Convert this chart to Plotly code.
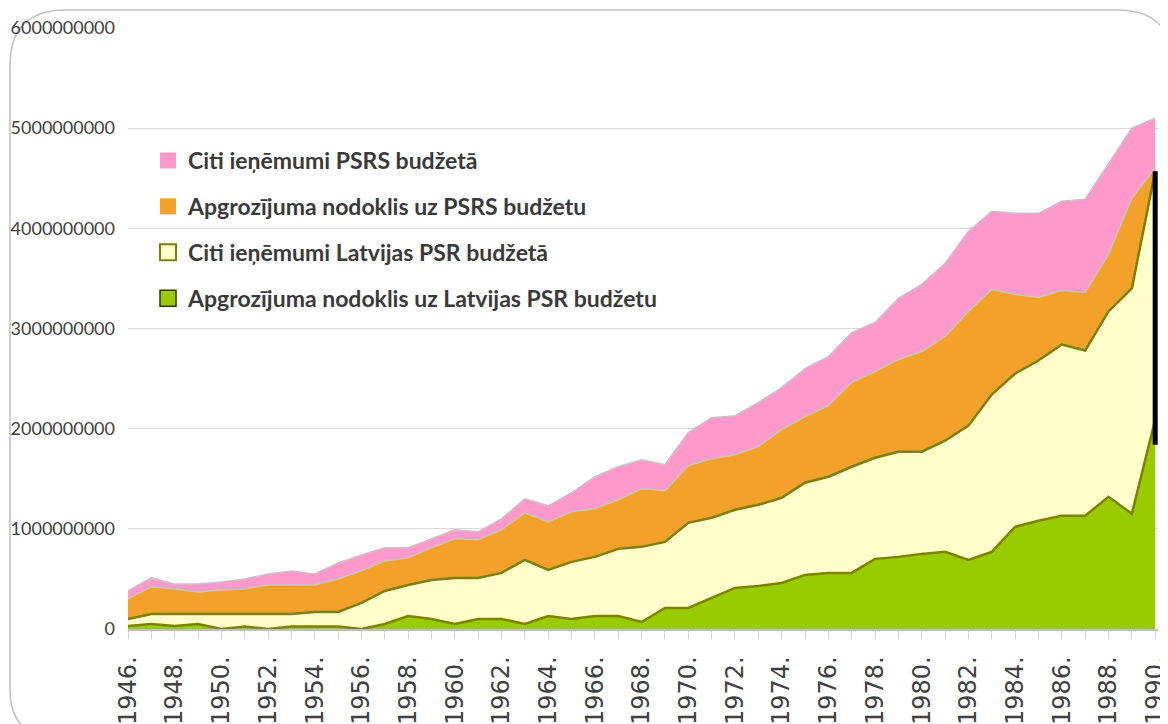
import plotly.graph_objects as go

# ---------------- data (values in millions) ----------------
years = list(range(1946, 1991))

# Apgrozījuma nodoklis uz Latvijas PSR budžetu
turnover_lv = [30, 50, 30, 50, 0, 25, 0, 25, 25, 25,
               0, 50, 130, 100, 50, 100, 100, 50, 130, 100,
               130, 130, 70, 210, 210, 310, 410, 430, 460, 540,
               560, 560, 700, 720, 750, 770, 690, 770, 1020, 1080,
               1130, 1130, 1320, 1150, 2090]
# Citi ieņēmumi Latvijas PSR budžetā
other_lv = [70, 100, 120, 100, 150, 125, 150, 125, 145, 145,
            260, 330, 310, 390, 460, 410, 460, 640, 460, 570,
            590, 670, 750, 660, 850, 800, 780, 810, 850, 920,
            960, 1060, 1010, 1050, 1020, 1110, 1340, 1570, 1530, 1600,
            1710, 1650, 1850, 2250, 2480]
# Apgrozījuma nodoklis uz PSRS budžetu
turnover_su = [200, 270, 250, 220, 240, 250, 290, 290, 270, 330,
               320, 300, 270, 320, 390, 380, 430, 470, 480, 500,
               480, 490, 580, 510, 570, 590, 550, 580, 680, 660,
               710, 840, 860, 920, 1000, 1040, 1140, 1050, 790, 630,
               540, 580, 570, 900, 30]
# Citi ieņēmumi PSRS budžetā
other_su = [80, 90, 50, 80, 80, 100, 110, 140, 110, 160,
            160, 130, 100, 90, 90, 80, 110, 140, 160, 190,
            320, 330, 290, 260, 330, 410, 390, 440, 420, 480,
            490, 500, 490, 610, 670, 730, 800, 780, 810, 840,
            890, 930, 910, 700, 500]

names = ["Apgrozījuma nodoklis uz Latvijas PSR budžetu",
         "Citi ieņēmumi Latvijas PSR budžetā",
         "Apgrozījuma nodoklis uz PSRS budžetu",
         "Citi ieņēmumi PSRS budžetā"]

# dark stroke seen at the last category (millions)
edge_span = [1840, 4570]

M = 1_000_000
series = [turnover_lv, other_lv, turnover_su, other_su]
fills = ["#99CC00", "#FFFFCC", "#F3A12A", "#FF99CC"]
lines = ["#7F7F00", "#7F7F00", "#C4C4C4", "#C4C4C4"]
lwidth = [2.5, 2.5, 1.5, 1.5]

fig = go.Figure()
for vals, nm, fc, lc, lw in zip(series, names, fills, lines, lwidth):
    fig.add_trace(go.Scatter(
        x=years, y=[v * M for v in vals], name=nm, mode="lines",
        stackgroup="one", fillcolor=fc,
        line=dict(color=lc, width=lw), showlegend=False,
        hoverinfo="skip"))

# dark edge stroke at 1990
fig.add_trace(go.Scatter(
    x=[years[-1], years[-1]], y=[v * M for v in edge_span], mode="lines",
    line=dict(color="#000000", width=5), showlegend=False, hoverinfo="skip"))

# legend entries (squares), top to bottom
leg_border = ["#333300", "#7F7F00", "#F3A12A", "#FF99CC"]
leg_bw = [1.5, 2, 0, 0]
for i in [3, 2, 1, 0]:
    fig.add_trace(go.Scatter(
        x=[None], y=[None], mode="markers", name=names[i],
        legendgroup=f"g{i}",
        marker=dict(symbol="square", size=16, color=fills[i],
                    line=dict(color=leg_border[i], width=leg_bw[i]))))

# ---------------- layout ----------------
# the page body adds an 8px offset; layout numbers below are page pixels
OFF = 8
W, H = 1168, 724
PL, PR, PT, PB = 128, 1158, 28, 629        # plot area in page pixels
L, T = PL - OFF, PT - OFF
R = W - (PR - OFF)
B = H - (PB - OFF)
pw, ph = PR - PL, PB - PT


def px(x):
    return (x - PL) / pw


def py(y):
    return (PB - y) / ph


# rounded chart border
border = (f"M {px(10)},{py(690)} L {px(10)},{py(66)} "
          f"Q {px(10)},{py(10)} {px(66)},{py(10)} "
          f"L {px(1117)},{py(10)} "
          f"Q {px(1173)},{py(10)} {px(1173)},{py(66)} "
          f"M {px(10)},{py(690)} Q {px(10)},{py(740)} {px(66)},{py(740)}")

fig.update_layout(
    width=W, height=H,
    margin=dict(l=L, r=R, t=T, b=B, autoexpand=False),
    plot_bgcolor="white", paper_bgcolor="white",
    shapes=[dict(type="path", path=border, xref="paper", yref="paper",
                 line=dict(color="#C0C0C0", width=1.5), layer="below")],
    legend=dict(x=px(148), y=py(139), xanchor="left", yanchor="top",
                bgcolor="rgba(0,0,0,0)", traceorder="grouped",
                tracegroupgap=13,
                font=dict(family="Lato", size=23, color="#3A3A3A",
                          weight="bold")),
    xaxis=dict(range=[1946, 1990.12], tickmode="linear", tick0=1946, dtick=2,
               tickformat="d", ticksuffix=".", tickangle=-90,
               ticks="outside", ticklen=8, tickcolor="#D0D0D0",
               minor=dict(dtick=1, tick0=1946, ticks="outside", ticklen=8,
                          tickcolor="#D0D0D0", showgrid=False),
               showline=True, linecolor="#BFBFBF", linewidth=1.5,
               showgrid=False, zeroline=False, ticklabelstandoff=8,
               automargin=False, ticklabeloverflow="allow",
               tickfont=dict(family="DejaVu Sans", size=24, color="#404040")),
    yaxis=dict(range=[0, 6e9], tickmode="linear", tick0=0, dtick=1e9,
               tickformat="d", showgrid=True, gridcolor="#D9D9D9",
               gridwidth=1, zeroline=False, showline=False,
               ticklabelstandoff=12, automargin=False,
               ticklabeloverflow="allow",
               tickfont=dict(family="Lato", size=18, color="#404040")),
    hovermode=False,
)

fig.write_html("out.html")
